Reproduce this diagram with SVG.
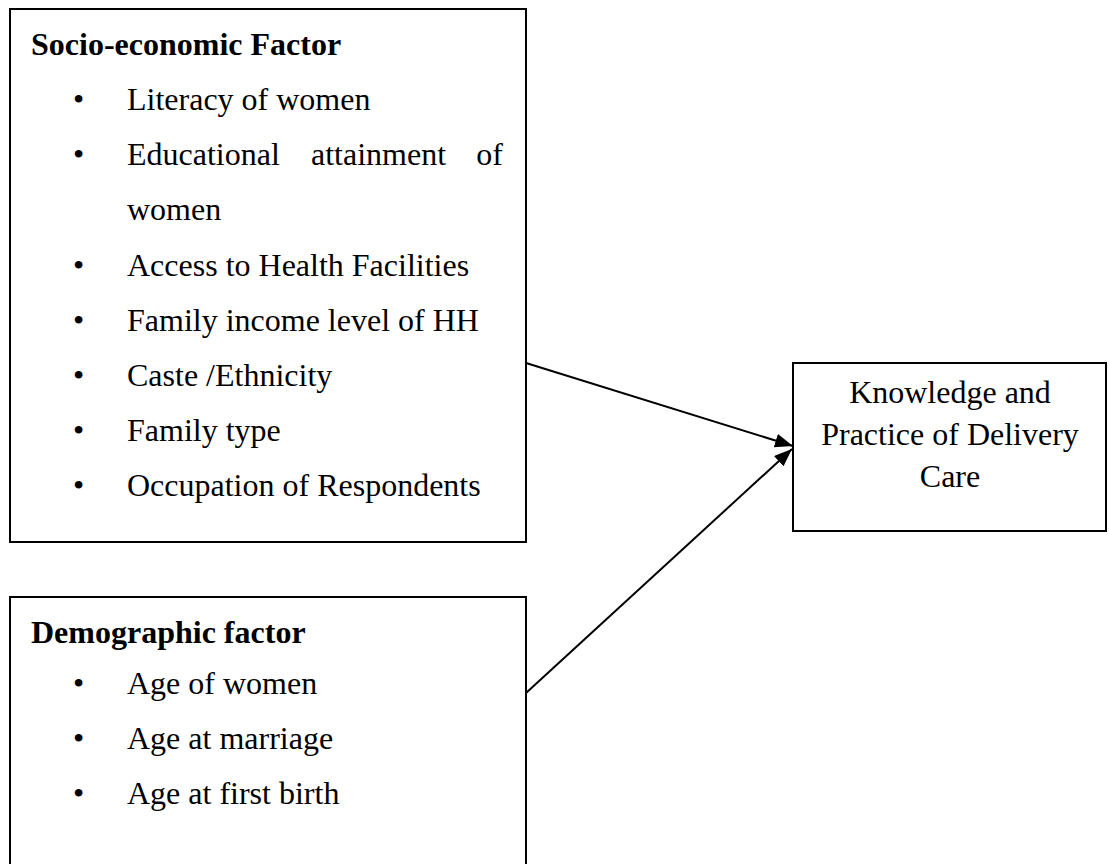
<svg xmlns="http://www.w3.org/2000/svg" width="1109" height="864" viewBox="0 0 1109 864">
<style>
.box{fill:#fff;stroke:#000;stroke-width:2}
.t{font-family:"Liberation Serif","Times New Roman",serif;font-size:32px;fill:#000}
.h{font-weight:bold}
.c{text-anchor:middle}
.e{text-anchor:end}
.conn{stroke:#000;stroke-width:2;fill:none}
</style>
<defs>
<marker id="ah" markerUnits="userSpaceOnUse" markerWidth="19" markerHeight="14" refX="18" refY="7" orient="auto">
<path d="M0,0 L18,7 L0,14 z" fill="#000"/>
</marker>
</defs>
<rect width="1109" height="864" fill="#fff"/>
<g id="socio">
<rect class="box" x="10" y="9" width="516" height="533"/>
<text class="t h" x="31" y="55">Socio-economic Factor</text>
<g class="t">
<text x="73" y="110">•</text><text x="127" y="110">Literacy of women</text>
<text x="73" y="165">•</text><text x="127" y="165">Educational</text><text x="311" y="165">attainment</text><text class="e" x="503" y="165">of</text>
<text x="127" y="220">women</text>
<text x="73" y="276">•</text><text x="127" y="276">Access to Health Facilities</text>
<text x="73" y="331">•</text><text x="127" y="331">Family income level of HH</text>
<text x="73" y="386">•</text><text x="127" y="386">Caste /Ethnicity</text>
<text x="73" y="441">•</text><text x="127" y="441">Family type</text>
<text x="73" y="496">•</text><text x="127" y="496">Occupation of Respondents</text>
</g>
</g>
<g id="demo">
<rect class="box" x="10" y="597" width="516" height="290"/>
<text class="t h" x="31" y="643">Demographic factor</text>
<g class="t">
<text x="73" y="694">•</text><text x="127" y="694">Age of women</text>
<text x="73" y="749">•</text><text x="127" y="749">Age at marriage</text>
<text x="73" y="804">•</text><text x="127" y="804">Age at first birth</text>
</g>
</g>
<g id="outcome">
<rect class="box" x="793" y="363" width="313" height="168"/>
<g class="t c">
<text x="950" y="403">Knowledge and</text>
<text x="950" y="445">Practice of Delivery</text>
<text x="950" y="487">Care</text>
</g>
</g>
<g id="connectors">
<line class="conn" x1="526" y1="363" x2="793" y2="446" marker-end="url(#ah)"/>
<line class="conn" x1="526" y1="693" x2="792" y2="449" marker-end="url(#ah)"/>
</g>
</svg>
